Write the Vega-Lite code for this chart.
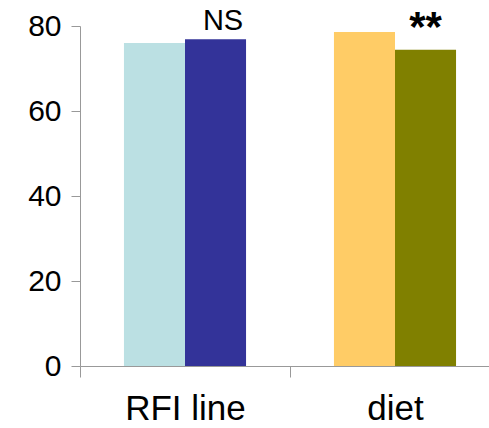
{
  "$schema": "https://vega.github.io/schema/vega-lite/v6.json",
  "autosize": {"type": "none"},
  "padding": {"left": 80, "top": 26, "right": 0, "bottom": 62},
  "width": 409,
  "height": 340,
  "background": "white",
  "config": {
    "view": {"stroke": null},
    "font": "Liberation Sans",
    "axis": {"domainColor": "#999999", "tickColor": "#999999", "labelColor": "#000000", "grid": false, "labelFont": "Liberation Sans"}
  },
  "data": {
    "values": [
      {"cat": "RFI line", "sub": "1", "group": "RFI line A", "value": 76.0, "label": ""},
      {"cat": "RFI line", "sub": "2", "group": "RFI line B", "value": 76.9, "label": "NS"},
      {"cat": "diet", "sub": "1", "group": "diet A", "value": 78.6, "label": ""},
      {"cat": "diet", "sub": "2", "group": "diet B", "value": 74.4, "label": "**"}
    ]
  },
  "encoding": {
    "x": {
      "field": "cat", "type": "nominal", "sort": ["RFI line", "diet"],
      "scale": {"range": [0, 420], "paddingInner": 0, "paddingOuter": 0},
      "axis": {"title": null, "labelAngle": 0, "tickBand": "extent", "tickSize": 11, "labelPadding": 14, "labelFontSize": 35, "domainWidth": 1, "tickWidth": 1}
    },
    "xOffset": {"field": "sub", "type": "nominal", "scale": {"paddingInner": 0, "paddingOuter": 0.72}},
    "y": {
      "field": "value", "type": "quantitative",
      "scale": {"domain": [0, 80], "nice": false},
      "axis": {"title": null, "values": [0, 20, 40, 60, 80], "tickSize": 9, "labelPadding": 10, "labelFontSize": 30, "domainWidth": 1, "tickWidth": 1}
    }
  },
  "layer": [
    {
      "mark": {"type": "bar"},
      "encoding": {
        "color": {
          "field": "group", "type": "nominal", "legend": null,
          "scale": {"domain": ["RFI line A", "RFI line B", "diet A", "diet B"], "range": ["#BBE0E3", "#333399", "#FFCC66", "#808000"]}
        }
      }
    },
    {
      "transform": [{"filter": "datum.label == 'NS'"}],
      "mark": {"type": "text", "fontSize": 29, "baseline": "alphabetic", "align": "center", "dx": 7.5, "dy": -9, "color": "#000000"},
      "encoding": {"text": {"field": "label"}}
    },
    {
      "transform": [{"filter": "datum.label == '**'"}],
      "mark": {"type": "text", "fontSize": 42, "fontWeight": "bold", "baseline": "alphabetic", "align": "center", "dx": 0, "dy": -9, "color": "#000000"},
      "encoding": {"text": {"field": "label"}}
    }
  ]
}
